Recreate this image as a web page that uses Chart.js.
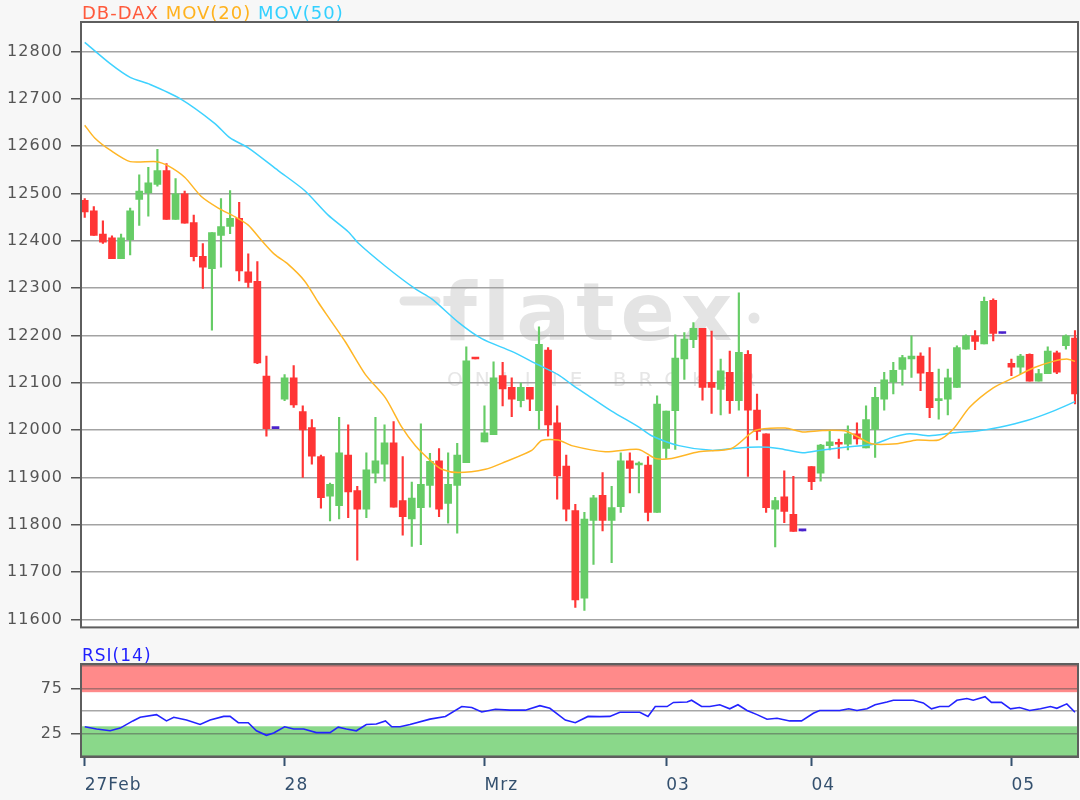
<!DOCTYPE html>
<html><head><meta charset="utf-8">
<script src="https://cdn.jsdelivr.net/npm/chart.js@4.4.1/dist/chart.umd.min.js"></script>
<style>
html,body{margin:0;padding:0;background:#f7f7f7;width:1080px;height:800px;overflow:hidden;font-family:"DejaVu Sans",sans-serif;}
#wrap{position:relative;width:1080px;height:800px;}
canvas{position:absolute;left:0;}
#main{top:0;}
#rsi{top:645px;}
.title{position:absolute;left:82px;font-size:18px;letter-spacing:1px;white-space:nowrap;line-height:18px;z-index:5;}
</style></head>
<body><div id="wrap">
<div class="title" style="top:4px"><span style="color:#ff5a3c">DB-DAX</span> <span style="color:#ffb21e">MOV(20)</span> <span style="color:#33d0ff">MOV(50)</span></div>
<div class="title" style="top:646px;color:#1f1fff;font-size:17px">RSI(14)</div>
<canvas id="main" width="1080" height="645"></canvas>
<canvas id="rsi" width="1080" height="155"></canvas>
</div>
<script>
// ---- candle data (one entry per slot) ----
const opens = [12485,12463,12414,12406,12362,12402,12487,12501,12519,12548,12445,12499,12438,12367,12341,12411,12430,12447,12334,12314,12114,12003,
12065,12110,12039,12005,11944,11860,11840,11947,11872,11833,11909,11928,11973,11851,11812,11836,11883,11935,11845,11883,11931,12151,
11975,11990,12115,12090,12062,12090,12041,12169,12015,11924,11830,11645,11809,11862,11809,11838,11935,11926,11926,11826,
11961,12041,12150,12191,12215,12101,12086,12122,12062,12160,12042,11992,11833,11859,11822,11787,
11923,11909,11967,11974,11970,11992,11962,12001,12065,12101,12128,12150,12156,12122,12062,12065,12090,12171,12199,12182,12274,12204,
12141,12133,12160,12103,12119,12163,12178,12194];
const highs = [12489,12472,12442,12410,12414,12469,12539,12555,12593,12563,12531,12505,12454,12394,12417,12489,12506,12481,12372,12356,12156,12003,
12117,12136,12051,12022,11947,11888,12027,12011,11881,11952,12027,12011,12018,11944,11890,12013,11951,11961,11952,11972,12176,12151,
12051,12144,12143,12110,12099,12090,12218,12174,12051,11947,11843,11826,11862,11910,11881,11952,11952,11933,11944,12072,
12040,12201,12206,12227,12215,12209,12150,12167,12290,12168,12076,11992,11858,11914,11902,11787,
11923,11970,11997,11981,12009,12015,12051,12090,12122,12143,12158,12199,12163,12174,12129,12129,12178,12201,12210,12281,12277,12204,
12150,12160,12161,12128,12176,12167,12201,12210];
const lows = [12449,12411,12394,12362,12362,12370,12432,12452,12515,12445,12445,12437,12357,12299,12211,12344,12415,12315,12301,12140,11987,12003,
12062,12048,11900,11928,11835,11808,11812,11815,11725,11815,11888,11892,11837,11778,11754,11758,11837,11817,11803,11782,11931,12150,
11975,11990,12051,12028,12049,12041,12001,11987,11854,11808,11625,11619,11716,11787,11720,11826,11867,11867,11808,11826,
11940,11959,12107,12174,12063,12035,12032,12035,12042,11902,11979,11826,11753,11804,11786,11787,
11874,11892,11958,11940,11958,11970,11962,11942,12042,12076,12095,12111,12083,12026,12023,12032,12090,12171,12170,12182,12188,12204,
12115,12119,12103,12103,12119,12119,12171,12055];
const closes = [12461,12411,12397,12362,12406,12463,12505,12522,12548,12445,12499,12437,12366,12344,12417,12430,12447,12336,12312,12142,12003,12003,
12110,12053,12000,11945,11857,11885,11952,11869,11833,11916,11935,11973,11837,11817,11856,11885,11934,11833,11885,11947,12146,12150,
11994,12110,12087,12065,12090,12065,12181,12011,11903,11833,11641,11812,11857,11809,11836,11935,11919,11929,11826,12055,
12040,12152,12192,12215,12090,12090,12125,12062,12164,12042,11997,11836,11851,11828,11786,11787,
11891,11968,11975,11970,11992,11981,12022,12069,12106,12126,12153,12156,12120,12047,12066,12110,12174,12199,12187,12272,12204,12204,
12133,12156,12103,12119,12167,12122,12199,12076];

// ---- moving averages (slot, value) ----
const ma20Slots = [0,1.1,2.9,5.0,7.9,9.2,11.0,12.8,14.7,16.5,18.0,19.4,20.9,22.4,24.2,25.7,26.8,28.7,30.9,33.1,34.9,36.4,38.2,39.3,41.1,44.1,46.3,49.2,50.3,52.1,53.6,57.3,61.0,62.8,64.6,67.6,71.2,73.8,77.1,79.0,81.2,83.9,86.6,89.4,91.6,94.0,95.6,97.4,100.0,102.2,104.4,106.6,108.1,109];
const ma20Values = [12644,12617,12590,12567,12567,12558,12534,12494,12469,12451,12433,12402,12371,12350,12315,12270,12239,12186,12117,12068,12006,11967,11933,11917,11910,11917,11933,11957,11978,11979,11967,11954,11959,11940,11940,11954,11961,11999,12004,11996,11999,11997,11971,11971,11979,11979,12002,12048,12089,12110,12131,12145,12150,12145];
const ma50Slots = [0,2.8,5.0,7.2,10.5,14.3,16.0,18.0,21.3,24.2,26.8,29.0,30.1,33.1,36.4,38.2,41.1,43.7,47.0,49.9,52.1,53.7,55.8,58.0,61.0,62.4,65.4,69.0,71.3,74.2,76.4,79.0,81.2,83.9,86.8,89.0,90.8,93.0,95.6,98.2,100.7,103.7,106.6,109];
const ma50Values = [12819,12774,12745,12730,12700,12648,12617,12596,12548,12506,12454,12419,12395,12346,12298,12277,12228,12193,12166,12138,12117,12095,12068,12040,12006,11988,11967,11957,11961,11964,11961,11952,11958,11964,11970,11985,11992,11988,11994,11998,12006,12020,12040,12060];

// ---- RSI(14) ----
const rsiSlots = [0,1.3,2.8,3.9,5.3,6.1,7.9,9.0,9.8,11.2,12.7,13.8,15.3,16.0,16.9,18.0,18.9,20.0,20.8,22.0,23.0,24.1,25.5,27.0,27.9,28.8,29.9,31.0,32.1,33.1,33.8,34.7,35.8,38.0,39.7,41.5,42.6,43.7,45.2,46.8,48.5,50.1,51.2,52.9,54.0,55.4,56.7,57.8,58.9,61.1,62.0,62.8,64.1,64.8,66.3,66.8,67.9,68.8,69.9,71.0,71.9,72.9,74.0,75.1,76.2,77.6,78.9,80.2,80.9,83.1,84.1,85.0,86.1,87.0,88.3,89.0,91.2,92.3,93.2,94.1,95.1,96.0,97.1,97.8,99.1,99.8,100.9,101.9,102.9,104.0,105.2,106.3,107.0,108.1,109.0];
const rsiValues = [32.5,30,28,31,39,43,46,39,43,40,35,40,44,44,37,37,28,23,25.5,32.5,30,30,26,26,32,30,28,35,35.5,39,32.5,32.5,35,41,44,55,54,49,52,51,51,56,53,40,37,44,43.8,44,48.6,48.6,44,55,55,59.6,60,62,55,55,57,52.5,57,50.6,46,40.8,42,39,39,47.5,50.6,50.6,52.5,50.6,52.5,57,60,62,62,59,52.5,55,55,62,64,62,66,59.6,59.6,52.5,54,50.6,52.5,55,53,58,48.6];
const rsiBandLow = [0, 33];     // green zone
const rsiBandHigh = [71, 101.4]; // red zone

// ---- axis ticks ----
const priceTicks = [11600,11700,11800,11900,12000,12100,12200,12300,12400,12500,12600,12700,12800];
const rsiTicks = [0,25,50,75,100];
const rsiLabelled = [25,75];
const dayTickSlots = [0,22,44,64,80,102];
const dayTickLabels = ['27Feb','28','Mrz','03','04','05'];

// ---- styling ----
const GREEN = '#66cc66', RED = '#ff3535', FLAT = '#4a22cc';
const FONT = '"DejaVu Sans", "Liberation Sans", sans-serif';
const X_MIN = -0.41, X_MAX = 109.33;

const slots = opens.map((_, i) => i);
const colorOf = i => closes[i] > opens[i] ? GREEN : (closes[i] < opens[i] ? RED : FLAT);
const candleColors = slots.map(colorOf);

const panelPlugin = {
  id: 'panel',
  beforeDraw(chart, args, opts) {
    const {ctx, chartArea: a} = chart;
    ctx.save();
    ctx.fillStyle = '#ffffff';
    ctx.fillRect(a.left, a.top, a.right - a.left, a.bottom - a.top);
    if (opts.rsi) {
      const y = chart.scales.y;
      const band = (r, col) => {
        const t = y.getPixelForValue(r[1]), b = y.getPixelForValue(r[0]);
        ctx.fillStyle = col;
        ctx.fillRect(a.left, t, a.right - a.left, b - t);
      };
      band(rsiBandHigh, '#ff8a8a');
      band(rsiBandLow, '#8ad88a');
    }
    if (opts.watermark) {
      ctx.fillStyle = '#e4e4e4';
      ctx.strokeStyle = '#e4e4e4';
      ctx.lineCap = 'round';
      ctx.lineWidth = 9;
      ctx.beginPath(); ctx.moveTo(404, 301); ctx.lineTo(436, 301); ctx.stroke();
      ctx.beginPath(); ctx.arc(754, 318, 5.5, 0, Math.PI * 2); ctx.fill();
      ctx.font = 'bold 80px ' + FONT;
      ctx.letterSpacing = '6px';
      ctx.textBaseline = 'alphabetic';
      ctx.fillText('flatex', 442, 340);
      ctx.fillStyle = '#e6e6e6';
      ctx.font = '20px ' + FONT;
      ctx.letterSpacing = '12px';
      ctx.fillText('ONLINE BROKER', 447, 386);
    }
    ctx.restore();
    ctx.letterSpacing = '1px';
  },
  afterDraw(chart) {
    const {ctx, chartArea: a} = chart;
    ctx.save();
    ctx.strokeStyle = '#5e5e5e';
    ctx.lineWidth = 2;
    ctx.strokeRect(a.left, a.top, a.right - a.left, a.bottom - a.top);
    ctx.restore();
  }
};

const common = {
  responsive: false,
  animation: false,
  events: [],
  plugins: { legend: { display: false }, tooltip: { enabled: false } }
};

new Chart(document.getElementById('main'), {
  type: 'bar',
  data: {
    datasets: [
      { type: 'line', label: 'MOV(20)', data: ma20Slots.map((s, i) => ({x: s, y: ma20Values[i]})),
        borderColor: '#ffb626', borderWidth: 1.5, pointRadius: 0, tension: 0.25, order: 0 },
      { type: 'line', label: 'MOV(50)', data: ma50Slots.map((s, i) => ({x: s, y: ma50Values[i]})),
        borderColor: '#3fd2ff', borderWidth: 1.5, pointRadius: 0, tension: 0.25, order: 0 },
      { label: 'body', data: slots.map(i => ({x: i, y: [opens[i], closes[i]]})),
        backgroundColor: candleColors, borderWidth: 0, barThickness: 7, minBarLength: 2, grouped: false, order: 1 },
      { label: 'wick', data: slots.map(i => ({x: i, y: [lows[i], highs[i]]})),
        backgroundColor: candleColors, borderWidth: 0, barThickness: 1.5, grouped: false, order: 2 }
    ]
  },
  options: Object.assign({}, common, {
    layout: { padding: { top: 22, right: 2, bottom: 8, left: 0 } },
    plugins: Object.assign({}, common.plugins, { panel: { watermark: true } }),
    scales: {
      x: { type: 'linear', min: X_MIN, max: X_MAX, offset: false, display: false, grid: { offset: false } },
      y: {
        type: 'linear', min: 11583, max: 12862,
        afterBuildTicks: s => { s.ticks = priceTicks.map(v => ({value: v})); },
        afterFit: s => { s.width = 81; },
        border: { display: false },
        grid: { color: '#a3a3a3', lineWidth: 1.5, tickLength: 10, tickColor: '#555', tickWidth: 1.5 },
        ticks: { color: '#555', font: { size: 16, family: FONT }, padding: 8, callback: v => String(v) }
      }
    }
  }),
  plugins: [panelPlugin]
});

new Chart(document.getElementById('rsi'), {
  type: 'line',
  data: {
    datasets: [
      { label: 'RSI(14)', data: rsiSlots.map((s, i) => ({x: s, y: rsiValues[i]})),
        borderColor: '#2323ff', borderWidth: 1.6, pointRadius: 0, tension: 0 }
    ]
  },
  options: Object.assign({}, common, {
    layout: { padding: { top: 19, right: 2, bottom: 0, left: 0 } },
    plugins: Object.assign({}, common.plugins, { panel: { rsi: true } }),
    scales: {
      x: {
        type: 'linear', min: X_MIN, max: X_MAX, offset: false,
        afterBuildTicks: s => { s.ticks = dayTickSlots.map(v => ({value: v})); },
        afterFit: s => { s.height = 43; },
        border: { display: false },
        grid: { drawOnChartArea: false, tickLength: 9, tickColor: '#34506e', tickWidth: 2 },
        ticks: { align: 'start', maxRotation: 0, autoSkip: false, color: '#34506e', font: { size: 17, family: FONT }, padding: 9,
                 callback: v => dayTickLabels[dayTickSlots.indexOf(v)] }
      },
      y: {
        type: 'linear', min: -1.2, max: 102.4,
        afterBuildTicks: s => { s.ticks = rsiTicks.map(v => ({value: v})); },
        afterFit: s => { s.width = 81; },
        border: { display: false },
        grid: { color: 'rgba(80,80,80,0.5)', lineWidth: 1.5, tickLength: 10,
                tickColor: c => (c.tick && rsiLabelled.includes(c.tick.value)) ? '#555' : 'rgba(0,0,0,0)', tickWidth: 1.5 },
        ticks: { color: '#555', font: { size: 16, family: FONT }, padding: 8,
                 callback: v => rsiLabelled.includes(v) ? String(v) : '' }
      }
    }
  }),
  plugins: [panelPlugin]
});
</script></body></html>
